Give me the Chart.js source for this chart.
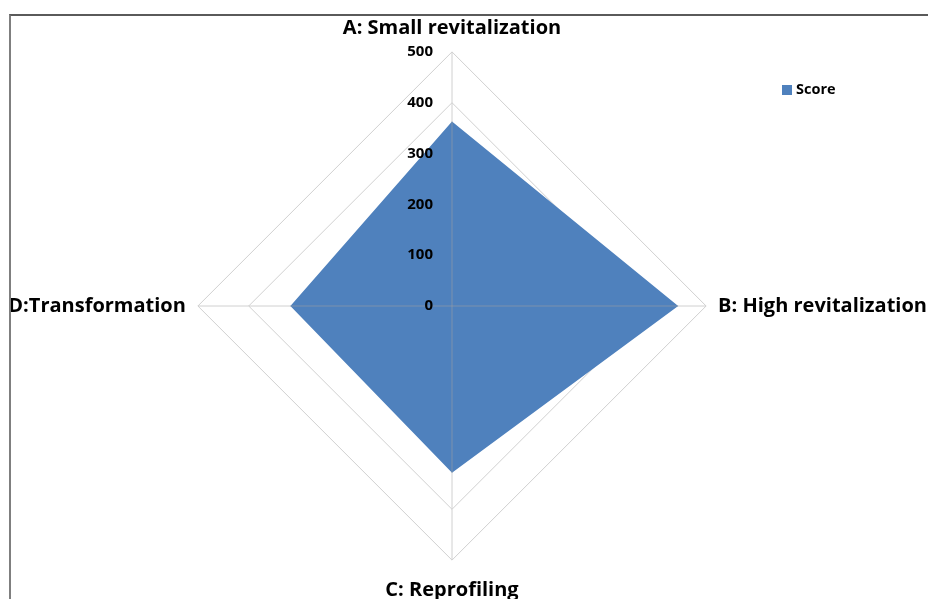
<!DOCTYPE html>
<html>
<head>
<meta charset="utf-8">
<script src="https://cdn.jsdelivr.net/npm/chart.js@4.4.1/dist/chart.umd.min.js"></script>
<style>
  html, body { margin: 0; padding: 0; background: #ffffff; }
  #wrap { position: relative; width: 928px; height: 599px; overflow: hidden; }
  #c { position: absolute; left: -7px; top: 0; }
  #frame { position: absolute; left: 9px; top: 14px; width: 930px; height: 600px;
           border-top: 2px solid #5a5a5a; border-left: 2px solid #7f7f7f; pointer-events: none; }
</style>
</head>
<body>
<div id="wrap">
  <canvas id="c" width="950" height="610"></canvas>
  <div id="frame"></div>
</div>
<script>
const categories = ["A: Small revitalization", "B: High revitalization", "C: Reprofiling", "D:Transformation"];
const seriesName = "Score";
const scoreValues = [363, 445, 328, 318];
const tickValues = [0, 100, 200, 300, 400, 500];

const FILL = "#4f81bd";
const FONT = "'Open Sans', Lato, sans-serif";
const CANVAS_SHIFT = 7;

const overlayPlugin = {
  id: "overlay",
  afterDatasetsDraw(chart) {
    const scale = chart.scales.r;
    const ctx = chart.ctx;
    const cx = scale.xCenter, cy = scale.yCenter;
    ctx.save();
    ctx.strokeStyle = "rgba(160,160,160,0.55)";
    ctx.lineWidth = 1;
    for (let i = 0; i < categories.length; i++) {
      const p = scale.getPointPositionForValue(i, scoreValues[i]);
      ctx.beginPath();
      ctx.moveTo(cx, cy);
      ctx.lineTo(p.x, p.y);
      ctx.stroke();
    }
    ctx.fillStyle = "#000";
    ctx.font = "bold 15px " + FONT;
    ctx.textAlign = "right";
    ctx.textBaseline = "middle";
    tickValues.forEach(v => {
      const d = scale.getDistanceFromCenterForValue(v);
      ctx.fillText(String(v), cx - 19, cy - d);
    });
    const ds = chart.data.datasets[0];
    ctx.fillStyle = ds.backgroundColor;
    ctx.fillRect(782 + CANVAS_SHIFT, 85, 10, 10);
    ctx.fillStyle = "#000";
    ctx.textAlign = "left";
    ctx.font = "bold 14.5px " + FONT;
    ctx.fillText(ds.label, 796 + CANVAS_SHIFT, 90);
    ctx.restore();
  }
};

new Chart(document.getElementById("c"), {
  type: "radar",
  data: {
    labels: categories,
    datasets: [{
      label: seriesName,
      data: scoreValues,
      backgroundColor: FILL,
      borderColor: FILL,
      borderWidth: 0,
      fill: true,
      pointRadius: 0,
      pointHoverRadius: 0
    }]
  },
  options: {
    responsive: false,
    animation: false,
    layout: { padding: { left: 0, right: 0, top: 12, bottom: 4 } },
    plugins: { legend: { display: false }, tooltip: { enabled: false } },
    scales: {
      r: {
        min: 0,
        max: 500,
        beginAtZero: true,
        ticks: { stepSize: 100, display: false },
        grid: { color: "#d0d0d0", lineWidth: 1 },
        angleLines: { color: "#d0d0d0", lineWidth: 1 },
        pointLabels: {
          color: "#000",
          padding: (c) => (c.index === 2 ? 18 : 12),
          font: { family: FONT, size: 20, weight: "bold" }
        }
      }
    }
  },
  plugins: [overlayPlugin]
});
</script>
</body>
</html>
